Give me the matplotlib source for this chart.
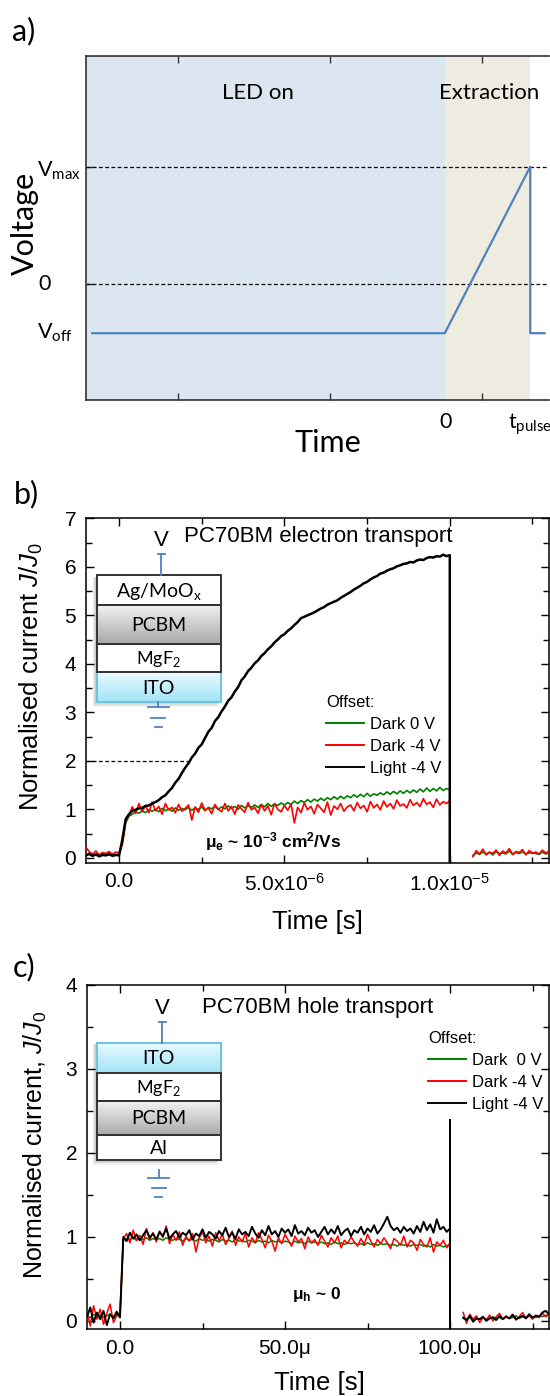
import numpy as np
import matplotlib
matplotlib.use("Agg")
import matplotlib.pyplot as plt
from matplotlib.patches import Rectangle
from matplotlib.lines import Line2D
from matplotlib.colors import LinearSegmentedColormap

plt.rcParams['font.family'] = ['Liberation Sans', 'DejaVu Sans']
plt.rcParams['mathtext.fontset'] = 'custom'
plt.rcParams['mathtext.rm'] = 'Liberation Sans'
plt.rcParams['mathtext.it'] = 'Liberation Sans:italic'
plt.rcParams['mathtext.bf'] = 'Liberation Sans:bold'

# ---------------- data: panel a (schematic pulse) ----------------
a_wave_t = [-4.124, 0.0, 1.0, 1.0, 1.168]     # time in units of t_pulse
V_off, V_zero, V_max = -1.0, 0.0, 2.4
a_wave_v = [V_off, V_off, V_max, V_off, V_off]
a_led_span = (-4.3, 0.0)
a_extr_span = (0.0, 1.0)

# ---------------- data: panel b (electron transport) ----------------
tb_pre_us = np.linspace(-1.0, 0.0, 11)
tb_main_us = np.linspace(0.1, 10.0, 100)
tb_post_us = np.linspace(10.7, 13.0, 24)
b_drop = -0.1
b_dash_y, b_dash_end_us = 2.0, 2.2

b_black_pre = [0.05, 0.08, 0.04, 0.07, 0.03, 0.06, 0.05, 0.08, 0.04, 0.06, 0.05]
b_black_main = [0.38, 0.80, 0.90, 0.97, 0.99, 1.02, 1.03, 1.07, 1.08, 1.12,
                1.15, 1.19, 1.25, 1.29, 1.37, 1.44, 1.55, 1.63, 1.75, 1.86,
                1.95, 2.07, 2.15, 2.27, 2.34, 2.47, 2.60, 2.68, 2.82, 2.90,
                3.02, 3.12, 3.24, 3.31, 3.43, 3.52, 3.66, 3.74, 3.85, 3.92,
                4.01, 4.07, 4.16, 4.22, 4.30, 4.36, 4.44, 4.50, 4.57, 4.61,
                4.68, 4.73, 4.80, 4.86, 4.94, 4.97, 5.00, 5.03, 5.06, 5.10,
                5.14, 5.17, 5.22, 5.25, 5.28, 5.31, 5.36, 5.40, 5.44, 5.48,
                5.53, 5.57, 5.61, 5.66, 5.69, 5.74, 5.78, 5.81, 5.86, 5.88,
                5.92, 5.95, 5.97, 6.01, 6.03, 6.06, 6.07, 6.10, 6.09, 6.13,
                6.15, 6.14, 6.18, 6.20, 6.19, 6.22, 6.21, 6.25, 6.22, 6.24]

b_green_pre = [0.06, 0.09, 0.05, 0.08, 0.06, 0.10, 0.07, 0.05, 0.09, 0.06, 0.07]
b_green_main = [0.30, 0.72, 0.86, 0.90, 0.94, 0.92, 0.97, 0.93, 0.99, 0.96,
                1.00, 0.95, 1.02, 0.97, 1.01, 0.96, 1.03, 0.98, 1.02, 0.99,
                1.04, 0.98, 1.03, 1.00, 1.05, 0.97, 1.04, 1.01, 1.06, 1.00,
                1.05, 1.01, 1.07, 1.02, 1.06, 1.00, 1.08, 1.03, 1.07, 1.04,
                1.09, 1.04, 1.10, 1.05, 1.12, 1.06, 1.11, 1.08, 1.13, 1.09,
                1.14, 1.10, 1.17, 1.12, 1.18, 1.14, 1.20, 1.15, 1.21, 1.17,
                1.23, 1.18, 1.24, 1.20, 1.26, 1.21, 1.27, 1.22, 1.28, 1.24,
                1.30, 1.25, 1.31, 1.26, 1.33, 1.27, 1.32, 1.29, 1.34, 1.30,
                1.36, 1.31, 1.37, 1.32, 1.38, 1.33, 1.39, 1.34, 1.40, 1.35,
                1.42, 1.36, 1.44, 1.37, 1.43, 1.38, 1.45, 1.39, 1.43, 1.40]
b_green_post = [0.05, 0.10, 0.07, 0.12, 0.08, 0.11, 0.06, 0.13, 0.09, 0.10, 0.08, 0.14,
                0.07, 0.11, 0.09, 0.12, 0.08, 0.10, 0.11, 0.09, 0.07, 0.12, 0.08, 0.10]

b_red_pre = [0.22, 0.12, 0.08, 0.14, 0.06, 0.11, 0.09, 0.13, 0.07, 0.12, 0.10]
b_red_main = [0.28, 0.75, 0.88, 1.05, 0.92, 1.12, 0.95, 1.08, 0.93, 1.15,
              0.97, 1.06, 0.90, 1.12, 0.99, 1.04, 0.93, 1.10, 0.96, 1.02,
              1.09, 0.78, 1.05, 0.94, 1.13, 0.98, 1.03, 0.91, 1.10, 1.00,
              0.95, 1.12, 0.97, 1.06, 0.90, 1.09, 1.01, 0.94, 1.14, 0.99,
              1.04, 0.92, 1.10, 0.97, 1.07, 0.89, 1.12, 1.00, 0.95, 1.08,
              0.98, 1.11, 0.72, 1.04, 0.93, 1.13, 0.99, 1.06, 0.91, 1.10,
              1.02, 0.94, 1.15, 0.88, 1.07, 1.00, 1.12, 0.96, 1.05, 1.09,
              0.97, 1.14, 1.02, 1.08, 0.95, 1.16, 1.03, 1.10, 0.99, 1.17,
              1.05, 1.12, 1.01, 1.19, 1.07, 1.11, 1.03, 1.20, 1.08, 1.14,
              1.06, 1.22, 1.10, 1.15, 1.04, 1.21, 1.09, 1.16, 1.12, 1.18]
b_red_post = [0.02, 0.15, 0.08, 0.18, 0.06, 0.12, 0.09, 0.16, 0.05, 0.14, 0.10, 0.19,
              0.07, 0.13, 0.11, 0.17, 0.06, 0.15, 0.09, 0.12, 0.08, 0.16, 0.10, 0.14]

# ---------------- data: panel c (hole transport) ----------------
tc_pre_us = np.linspace(-10.0, 0.0, 11)
tc_main_us = np.linspace(1.0, 100.0, 100)
tc_post_us = np.linspace(104.0, 130.0, 27)
c_drop = -0.1
c_spike = 2.39

c_black_pre = [0.05, 0.16, -0.02, 0.10, 0.02, 0.12, -0.05, 0.08, 0.03, 0.11, 0.04]
c_black_main = [1.00, 0.95, 1.05, 0.98, 1.03, 0.96, 1.02, 1.08, 0.99, 1.04,
                0.97, 1.06, 1.01, 1.10, 0.98, 1.03, 1.07, 0.99, 1.05, 1.02,
                1.08, 0.97, 1.04, 1.01, 1.09, 0.99, 1.06, 1.03, 0.98, 1.07,
                1.02, 1.11, 1.00, 1.05, 0.98, 1.09, 1.03, 1.06, 1.01, 1.12,
                1.04, 0.99, 1.08, 1.02, 1.13, 1.03, 1.07, 1.00, 1.10, 1.05,
                1.09, 1.01, 1.14, 1.04, 1.07, 1.02, 1.11, 1.05, 1.08, 1.00,
                1.06, 1.12, 1.03, 1.09, 1.04, 1.13, 1.02, 1.07, 1.10, 1.01,
                1.08, 1.05, 1.12, 1.03, 1.10, 1.06, 1.14, 1.04, 1.09, 1.16,
                1.24, 1.13, 1.08, 1.11, 1.05, 1.12, 1.07, 1.10, 1.04, 1.13,
                1.06, 1.18, 1.08, 1.15, 1.05, 1.21, 1.09, 1.12, 1.06, 1.10]
c_black_post = [0.04, 0.01, 0.06, -0.01, 0.03, 0.02, 0.05, 0.00, 0.03, 0.04, 0.01, 0.06, 0.02, 0.05,
                0.03, 0.07, 0.02, 0.04, 0.06, 0.03, 0.08, 0.04, 0.06, 0.05, 0.10, 0.12, 0.08]

c_red_pre = [0.12, -0.06, 0.18, 0.02, 0.14, -0.04, 0.09, 0.20, -0.02, 0.06, 0.10]
c_red_main = [0.98, 1.04, 0.93, 1.08, 0.96, 1.02, 0.91, 1.10, 0.97, 1.05,
              0.94, 1.07, 0.99, 1.13, 0.92, 1.03, 0.96, 1.06, 0.90, 1.01,
              0.95, 1.04, 0.82, 0.99, 1.06, 0.93, 1.01, 0.89, 1.05, 0.96,
              1.03, 0.91, 0.98, 1.07, 0.90, 1.00, 0.94, 1.04, 0.88, 0.99,
              0.93, 1.05, 0.97, 0.87, 1.02, 0.95, 0.83, 0.99, 0.92, 1.03,
              0.96, 0.89, 1.01, 0.94, 0.98, 0.86, 1.00, 0.93, 0.97, 0.90,
              1.02, 0.95, 0.88, 0.99, 0.93, 1.01, 0.87, 0.96, 0.92, 1.00,
              0.94, 0.89, 0.98, 0.91, 1.03, 0.95, 0.88, 0.97, 0.92, 0.99,
              0.93, 0.86, 0.98, 0.95, 0.90, 1.01, 0.88, 0.96, 0.93, 0.84,
              0.97, 0.91, 0.88, 0.99, 0.82, 0.94, 0.90, 0.96, 0.87, 0.93]
c_red_post = [0.10, -0.03, 0.08, 0.02, 0.06, -0.02, 0.04, 0.01, 0.07, 0.00, 0.05, 0.09, 0.02, 0.06,
              0.03, 0.08, 0.01, 0.05, 0.10, 0.03, 0.06, 0.02, 0.07, 0.04, 0.09, 0.05, 0.08]

c_green_pre = [0.06, 0.04, 0.08, 0.05, 0.07, 0.04, 0.06, 0.08, 0.05, 0.07, 0.06]
c_green_main = [0.96, 0.98, 0.97, 0.99, 0.96, 0.98, 0.97, 0.99, 0.96, 0.98,
                0.97, 0.98, 0.96, 0.99, 0.97, 0.96, 0.98, 0.97, 0.95, 0.98,
                0.96, 0.97, 0.95, 0.98, 0.96, 0.97, 0.95, 0.97, 0.96, 0.94,
                0.97, 0.95, 0.96, 0.94, 0.97, 0.95, 0.96, 0.94, 0.96, 0.95,
                0.93, 0.96, 0.94, 0.95, 0.93, 0.96, 0.94, 0.95, 0.93, 0.95,
                0.94, 0.92, 0.95, 0.93, 0.94, 0.92, 0.95, 0.93, 0.94, 0.92,
                0.94, 0.92, 0.93, 0.91, 0.94, 0.92, 0.93, 0.91, 0.93, 0.92,
                0.93, 0.91, 0.92, 0.90, 0.93, 0.91, 0.92, 0.90, 0.92, 0.91,
                0.92, 0.90, 0.91, 0.89, 0.92, 0.90, 0.91, 0.89, 0.91, 0.90,
                0.91, 0.89, 0.90, 0.88, 0.91, 0.89, 0.90, 0.88, 0.90, 0.89]
c_green_post = [0.03, 0.02, 0.04, 0.01, 0.03, 0.02, 0.04, 0.02, 0.03, 0.05, 0.03, 0.04, 0.02, 0.05,
                0.03, 0.04, 0.06, 0.03, 0.05, 0.04, 0.06, 0.05, 0.04, 0.06, 0.05, 0.07, 0.06]

legend_b = ["Dark 0 V", "Dark -4 V", "Light -4 V"]
legend_c = ["Dark  0 V", "Dark -4 V", "Light -4 V"]
GREEN, RED, BLACK = "#008000", "#ff0000", "#000000"
WIRE = "#4f81bd"

# ---------------- figure ----------------
W, H = 550, 1396
fig = plt.figure(figsize=(W / 100, H / 100), dpi=100)


def box(l, t, r, b):
    return [l / W, 1 - b / H, (r - l) / W, (b - t) / H]


def ftext(x, y, s, **kw):
    fig.text(x / W, 1 - y / H, s, **kw)


CAL = ['Lato', 'DejaVu Sans']

# ===== panel a =====
ax = fig.add_axes(box(86.3, 56, 549, 400.3))
ax.axvspan(*a_led_span, color="#dce6f1", lw=0)
ax.axvspan(*a_extr_span, color="#eeebe0", lw=0)
ax.axhline(V_max, color="k", lw=0.9, ls=(0, (3, 2)))
ax.axhline(V_zero, color="k", lw=0.9, ls=(0, (3, 2)))
ax.plot(a_wave_t, a_wave_v, color=WIRE, lw=1.6)
ax.set_xticks([-3.126, -1.346, 0.430])
ax.set_yticks([V_zero, V_max])
ax.set_xlim(-4.193, 1.219)
ax.set_ylim(-2.37, 4.66)
ax.tick_params(direction="in", length=5, width=1, top=True, bottom=True,
               left=True, right=False, labelbottom=False, labelleft=False,
               color="#333333")
for s in ax.spines.values():
    s.set_color("#333333")
    s.set_linewidth(1.2)
ax.spines["right"].set_visible(False)

ftext(24, 31, "a)", fontsize=22, family=CAL, ha="center", va="center")
ftext(258, 93, "LED on", fontsize=16, family=CAL, ha="center", va="center")
ftext(489, 93, "Extraction", fontsize=16, family=CAL, ha="center", va="center")
ftext(81, 171, r"V$_{\mathregular{max}}$", fontsize=15.5, family=CAL, ha="right", va="center")
ftext(44.5, 284, "0", fontsize=15.5, family=CAL, ha="center", va="center")
ftext(73, 333, r"V$_{\mathregular{off}}$", fontsize=15.5, family=CAL, ha="right", va="center")
ftext(24.6, 223, "Voltage", fontsize=22, family=CAL, ha="center", va="center", rotation=90)
ftext(446, 422, "0", fontsize=15.5, family=CAL, ha="center", va="center")
ftext(508, 424, r"t$_{\mathregular{pulse}}$", fontsize=15.5, family=CAL, ha="left", va="center")
ftext(328, 443, "Time", fontsize=22, family=CAL, ha="center", va="center")


def style_axes(ax):
    ax.tick_params(which="both", direction="in", top=True, right=True, width=1)
    ax.tick_params(which="major", length=6, labelsize=15, pad=7)
    ax.tick_params(which="minor", length=4)
    for s in ax.spines.values():
        s.set_linewidth(1.1)


def draw_trace(ax, t_pre, v_pre, t_main, v_main, drop, t_post, v_post, color, lw, z, scale):
    t = np.concatenate([t_pre, t_main, [t_main[-1]]]) * scale
    v = np.concatenate([v_pre, v_main, [drop]])
    ax.plot(t, v, color=color, lw=lw, zorder=z)
    if t_post is not None:
        ax.plot(np.asarray(t_post) * scale, v_post, color=color, lw=lw, zorder=z)


LEG_KW = dict(title="Offset:", loc="upper left", bbox_transform=fig.transFigure,
              frameon=False, fontsize=12, title_fontsize=12, alignment="left",
              handlelength=2.3, handletextpad=0.35, labelspacing=0.42,
              borderpad=0, borderaxespad=0)

# ===== panel b =====
bx = fig.add_axes(box(86, 518.3, 549, 862.7))
draw_trace(bx, tb_pre_us, b_green_pre, tb_main_us, b_green_main, b_drop,
           tb_post_us, b_green_post, GREEN, 1.2, 3, 1e-6)
draw_trace(bx, tb_pre_us, b_red_pre, tb_main_us, b_red_main, b_drop,
           tb_post_us, b_red_post, RED, 1.2, 4, 1e-6)
draw_trace(bx, tb_pre_us, b_black_pre, tb_main_us, b_black_main, b_drop,
           None, None, BLACK, 1.8, 5, 1e-6)
bx.plot([-1e-6, b_dash_end_us * 1e-6], [b_dash_y, b_dash_y], color="k", lw=0.9, ls=(0, (3, 2)))
bx.set_xticks([0, 5e-6, 1e-5])
bx.set_xticks(np.arange(-2.5e-6, 1.31e-5, 2.5e-6), minor=True)
bx.set_xticklabels(["0.0", r"5.0x10$^{\mathregular{-6}}$", r"1.0x10$^{\mathregular{-5}}$"])
bx.set_yticks(range(0, 8))
bx.set_yticks(np.arange(0.5, 7, 1.0), minor=True)
bx.set_xlim(-1e-6, 1.3e-5)
bx.set_ylim(-0.1, 7)
style_axes(bx)
bx.legend([Line2D([], [], color=c, lw=1.4) for c in (GREEN, RED, BLACK)], legend_b,
          bbox_to_anchor=(326 / W, 1 - 695 / H), **LEG_KW)

ftext(26, 494, "b)", fontsize=22, family=CAL, ha="center", va="center")
ftext(318, 537, "PC70BM electron transport", fontsize=16, ha="center", va="center")
ftext(31, 677, r"Normalised current $\mathit{J}$/$\mathit{J}_{\mathregular{0}}$", fontsize=18.5,
      ha="center", va="center", rotation=90)
ftext(317, 922, "Time [s]", fontsize=18.5, ha="center", va="center")
ftext(273, 842, r"μ$_{\mathregular{e}}$ ~ 10$^{\mathregular{-3}}$ cm$^{\mathregular{2}}$/Vs",
      fontsize=12.5, fontweight="bold", ha="center", va="center")

# ===== panel c =====
cx = fig.add_axes(box(87, 985, 549, 1329.3))
draw_trace(cx, tc_pre_us, c_green_pre, tc_main_us, c_green_main, c_drop,
           tc_post_us, c_green_post, GREEN, 1.1, 3, 1e-6)
draw_trace(cx, tc_pre_us, c_red_pre, tc_main_us, c_red_main, c_drop,
           tc_post_us, c_red_post, RED, 1.1, 4, 1e-6)
tcb = np.concatenate([tc_pre_us, tc_main_us, [tc_main_us[-1], tc_main_us[-1]]]) * 1e-6
vcb = np.concatenate([c_black_pre, c_black_main, [c_spike, c_drop]])
cx.plot(tcb, vcb, color=BLACK, lw=1.4, zorder=5)
cx.plot(tc_post_us * 1e-6, c_black_post, color=BLACK, lw=1.4, zorder=5)
cx.set_xticks([0, 50e-6, 100e-6])
cx.set_xticks(np.arange(-25e-6, 131e-6, 25e-6), minor=True)
cx.set_xticklabels(["0.0", "50.0μ", "100.0μ"])
cx.set_yticks(range(0, 5))
cx.set_yticks(np.arange(0.5, 4, 1.0), minor=True)
cx.set_xlim(-10e-6, 130e-6)
cx.set_ylim(-0.1, 4)
style_axes(cx)
cx.legend([Line2D([], [], color=c, lw=1.4) for c in (GREEN, RED, BLACK)], legend_c,
          bbox_to_anchor=(428 / W, 1 - 1031 / H), **LEG_KW)

ftext(24, 967, "c)", fontsize=22, family=CAL, ha="center", va="center")
ftext(318, 1008, "PC70BM hole transport", fontsize=16, ha="center", va="center")
ftext(35, 1145, r"Normalised current, $\mathit{J}$/$\mathit{J}_{\mathregular{0}}$", fontsize=18,
      ha="center", va="center", rotation=90)
ftext(319, 1383, "Time [s]", fontsize=18.5, ha="center", va="center")
ftext(317, 1295, r"μ$_{\mathregular{h}}$ ~ 0", fontsize=12.5, fontweight="bold",
      ha="center", va="center")

# ===== device-stack insets (drawn in pixel space) =====
ov = fig.add_axes([0, 0, 1, 1], zorder=20)
ov.set_axis_off()

cm_pcbm = LinearSegmentedColormap.from_list("pcbm", ["#f2f2f2", "#a9a9a9"])
cm_ito = LinearSegmentedColormap.from_list("ito", ["#eafaff", "#a3e4f7"])
grad = np.linspace(0, 1, 64).reshape(-1, 1)


def stack(layers, left, right):
    top = layers[0][1]
    bot = layers[-1][2]
    for k in range(5):
        ov.add_patch(Rectangle((left - 1.5 - k * 0.7, top + 1.5), right - left,
                               bot - top + k * 0.9, color="k", alpha=0.045, lw=0, zorder=1))
    for name, yt, yb, kind, fs in layers:
        if kind == "pcbm":
            ov.imshow(grad, cmap=cm_pcbm, extent=(left, right, yb, yt), origin="upper",
                      aspect="auto", zorder=2)
            ec = "#333333"
        elif kind == "ito":
            ov.imshow(grad, cmap=cm_ito, extent=(left, right, yb, yt), origin="upper",
                      aspect="auto", zorder=2)
            ec = "#6cc4de"
        else:
            ov.add_patch(Rectangle((left, yt), right - left, yb - yt, facecolor="white",
                                   edgecolor="none", zorder=2))
            ec = "#333333"
        ov.add_patch(Rectangle((left, yt), right - left, yb - yt, facecolor="none",
                               edgecolor=ec, lw=1.4, zorder=4 if kind != "ito" else 3))
        ov.text((left + right) / 2, (yt + yb) / 2 + 1, name, fontsize=fs, family=CAL,
                ha="center", va="center", zorder=5)


def wire(x, y_top, y_bot):
    ov.plot([x, x], [y_bot, y_top], color=WIRE, lw=1.3, zorder=5)
    ov.plot([x - 3.5, x + 3.5], [y_top, y_top], color=WIRE, lw=1.3, zorder=5)


def ground(x, y_stem, y1, y2, y3, w1, w2, w3):
    ov.plot([x, x], [y_stem, y1], color=WIRE, lw=1.3, zorder=5)
    for y, w in ((y1, w1), (y2, w2), (y3, w3)):
        ov.plot([x - w / 2, x + w / 2], [y, y], color=WIRE, lw=1.3, zorder=5)


# panel b stack
stack([(r"Ag/MoO$_{\mathregular{x}}$", 575, 605, "plain", 14),
       ("PCBM", 605, 644.3, "pcbm", 14),
       (r"MgF$_{\mathregular{2}}$", 644.3, 672.3, "plain", 13),
       ("ITO", 672.3, 701.7, "ito", 14)], 96.8, 221)
wire(161.3, 554.3, 575)
ground(158, 701.7, 707.3, 717.7, 726.7, 21, 14, 7)
ov.text(161.3, 540, "V", fontsize=16, ha="center", va="center", zorder=5)

# panel c stack
stack([("ITO", 1042.7, 1073.3, "ito", 14),
       (r"MgF$_{\mathregular{2}}$", 1073.3, 1101, "plain", 13),
       ("PCBM", 1101, 1135, "pcbm", 14),
       ("Al", 1135, 1160, "plain", 14)], 96.8, 221)
wire(162, 1021.7, 1042.7)
ground(158.5, 1170, 1178, 1188, 1196.7, 21, 14, 7)
ov.text(162, 1008, "V", fontsize=16, ha="center", va="center", zorder=5)

ov.set_xlim(0, W)
ov.set_ylim(H, 0)

fig.savefig("out.png", dpi=100)
